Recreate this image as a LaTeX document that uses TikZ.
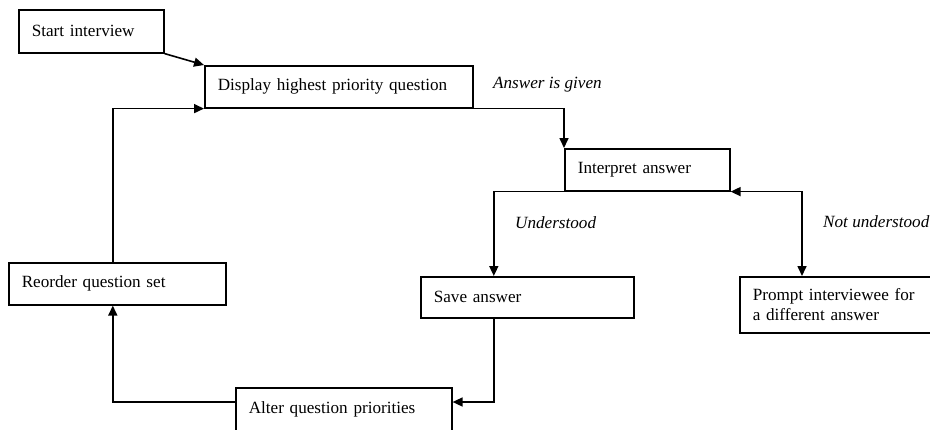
\documentclass[tikz,border=0pt]{standalone}
\usepackage{fontspec}
\setmainfont{Liberation Serif}
\usetikzlibrary{arrows.meta}
\begin{document}
\begin{tikzpicture}[x=1bp,y=-1bp,
  every node/.style={font=\fontsize{17.2}{20}\selectfont},
  box/.style={draw, line width=1.6bp, anchor=north west, inner xsep=13bp, inner ysep=0pt, align=left},
  conn/.style={line width=1.6bp, -{Triangle[length=10bp,width=9bp]}},
  biconn/.style={line width=1.6bp, {Triangle[length=10bp,width=9bp]}-{Triangle[length=10bp,width=9bp]}},
  lbl/.style={font=\fontsize{17.2}{20}\selectfont\itshape, anchor=west, inner sep=0pt}]
\useasboundingbox (0,0) rectangle (930,429);
\clip (0,0) rectangle (930,429);

\node[box, text width=119bp, minimum height=43bp] (start) at (18,9) {Start interview};
\node[box, text width=242bp, minimum height=42bp] (disp) at (204,65) {Display highest priority question};
\node[box, text width=139bp, minimum height=42bp] (interp) at (564,148) {Interpret answer};
\node[box, text width=191bp, minimum height=42bp] (reorder) at (8,262) {Reorder question set};
\node[box, text width=187bp, minimum height=41bp] (save) at (420,276) {Save answer};
\node[box, text width=185bp, minimum height=56bp] (prompt) at (739,276) {Prompt interviewee for\\a different answer};
\node[box, text width=190bp, minimum height=44bp] (alter) at (235,387) {Alter question priorities};

\node[lbl] (lgiven) at (493,85) {Answer is given};
\node[lbl] (lunder) at (515,223) {Understood};
\node[lbl] (lnot) at (823,222) {Not understood};

\draw[conn] (start.south east) -- (disp.north west);
\draw[conn] ([xshift=-4.5bp]reorder.north) |- (disp.south west);
\draw[conn] (disp.south east) -| (interp.north west);
\draw[conn] (interp.south west) -| ([xshift=-33.5bp]save.north);
\draw[biconn] (interp.south east) -| ([xshift=63bp]prompt.north west);
\draw[conn] ([xshift=-33.5bp]save.south) |- ([yshift=-15bp]alter.north east);
\draw[conn] ([yshift=-15bp]alter.north west) -| ([xshift=-4.5bp]reorder.south);
\end{tikzpicture}
\end{document}
